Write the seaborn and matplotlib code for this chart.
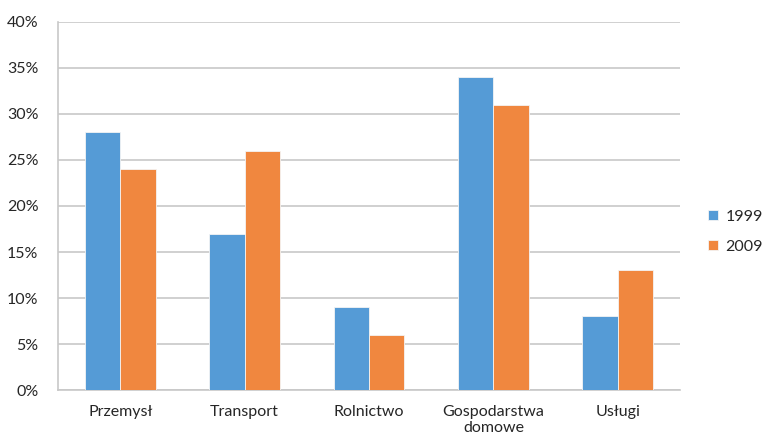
import matplotlib
matplotlib.use("Agg")
import matplotlib.pyplot as plt
import seaborn as sns
import pandas as pd
from matplotlib.ticker import FuncFormatter, MultipleLocator

categories = ["Przemysł", "Transport", "Rolnictwo", "Gospodarstwa\ndomowe", "Usługi"]
years = ["1999", "2009"]
values_1999 = [28, 17, 9, 34, 8]
values_2009 = [24, 26, 6, 31, 13]
colors = ["#559BD6", "#F0873F"]

df = pd.DataFrame({
    "sektor": categories * 2,
    "rok": [years[0]] * len(categories) + [years[1]] * len(categories),
    "udzial": values_1999 + values_2009,
})

sns.set_theme(style="white")
plt.rcParams["font.family"] = ["Lato", "DejaVu Sans"]

fig = plt.figure(figsize=(7.62, 4.41), dpi=100)
ax = fig.add_axes([58 / 762, 1 - 390 / 441, (680 - 58) / 762, (390 - 22) / 441])

sns.barplot(data=df, x="sektor", y="udzial", hue="rok", palette=colors,
            width=0.57, gap=0, saturation=1, ax=ax, zorder=3,
            edgecolor="#F4F4F4", linewidth=0.6)

ax.set_ylim(0, 40)
ax.set_xlim(-0.5, len(categories) - 0.5)
ax.yaxis.set_major_locator(MultipleLocator(5))
ax.yaxis.set_major_formatter(FuncFormatter(lambda v, _: f"{v:.0f}%"))
ax.grid(axis="y", color="#C8C8C8", linewidth=1.2, zorder=0)
ax.set_axisbelow(True)
ax.set_xlabel("")
ax.set_ylabel("")

for side in ["top", "right"]:
    ax.spines[side].set_visible(False)
for side in ["left", "bottom"]:
    ax.spines[side].set_color("#C8C8C8")
    ax.spines[side].set_linewidth(1.2)

ax.tick_params(axis="both", length=0, labelsize=11.5, colors="#262626")
ax.tick_params(axis="x", pad=11)
ax.tick_params(axis="y", pad=14)

leg = ax.legend(loc="center left", bbox_to_anchor=(1.045, 0.43), frameon=False,
                fontsize=11.5, handlelength=0.65, handleheight=0.65,
                handletextpad=0.45, labelspacing=1.0,
                borderaxespad=0, borderpad=0)
for t in leg.get_texts():
    t.set_color("#262626")

fig.savefig("out.png", dpi=100)
